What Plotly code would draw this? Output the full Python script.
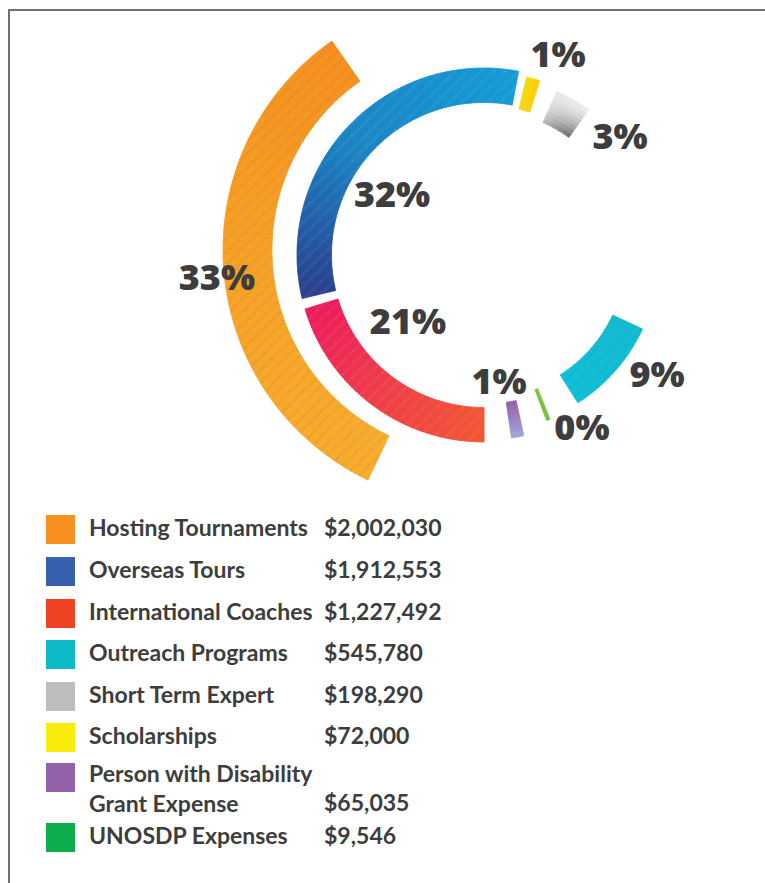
import numpy as np
import plotly.graph_objects as go

# ---------------- data ----------------
categories = ["Hosting Tournaments", "Overseas Tours", "International Coaches",
              "Outreach Programs", "Short Term Expert", "Scholarships",
              "Person with Disability<br>Grant Expense", "UNOSDP Expenses"]
amounts = [2002030, 1912553, 1227492, 545780, 198290, 72000, 65035, 9546]
amount_labels = ["$2,002,030", "$1,912,553", "$1,227,492", "$545,780",
                 "$198,290", "$72,000", "$65,035", "$9,546"]
pct_labels = ["33%", "32%", "21%", "9%", "3%", "1%", "1%", "0%"]
legend_colors = ["#F7901E", "#3761AE", "#EF4123", "#0BBAC6",
                 "#BDBDBD", "#F9EC0A", "#9561A8", "#0BAE4B"]

# ---------------- layout / style config ----------------
W, H = 765, 883
TXT = "#3D3D3D"
PCT_FONT = dict(family="Open Sans", size=36, color=TXT, weight=800)
LEG_FONT = dict(family="Lato", size=23, color=TXT, weight="bold")


def fx(x):
    return x / W


def fy(y):
    return 1 - y / H


# polar subplots: centre (px), radial range (px), sector (screen degrees)
POLARS = {
    "polar": dict(center=(478, 250), R=268, sector=(118, 252)),
    "polar2": dict(center=(484, 255), R=240, sector=(0, 360)),
}
subplot_of = ["polar", "polar2", "polar2", "polar2", "polar2", "polar2", "polar2", "polar2"]
arc_mid = [265.3, 313.6, 216.6, 131.3, 29.9, 15.6, 169.5, 158.7]
ring = [(206, 255), (152.5, 187), (152.5, 187), (142, 175),
        (145, 179), (150, 183), (149, 185), (144, 177)]
MIN_SWEEP = 1.2
label_pos = [(263.0, 263.2), (108.2, 301.8), (103.3, 227.4), (212.3, 125.4),
             (178.1, 49.8), (210.4, 20.6), (130.9, 173.4), (201.4, 150.9)]
textured = [True, True, True, True, False, False, False, False]


def hex2rgb(h):
    h = h.lstrip("#")
    return np.array([int(h[i:i + 2], 16) for i in (0, 2, 4)], float)


def interp(stops, t):
    t = min(max(t, 0.0), 1.0)
    for (t0, c0), (t1, c1) in zip(stops[:-1], stops[1:]):
        if t <= t1:
            f = 0 if t1 == t0 else (t - t0) / (t1 - t0)
            return hex2rgb(c0) * (1 - f) + hex2rgb(c1) * f
    return hex2rgb(stops[-1][1])


def rgb(c):
    return "rgb(%d,%d,%d)" % tuple(np.clip(np.round(c), 0, 255))


u_stops = [
    [(0, "#F9AD2D"), (0.55, "#F8A126"), (1, "#F78F1E")],
    [(0, "#283E8B"), (0.2, "#215BA5"), (0.45, "#1882C2"), (1, "#139BD5")],
    [(0, "#F15633"), (0.5, "#EF3C46"), (1, "#EC1A5C")],
    [(0, "#12BBD2"), (1, "#0DBFD7")],
    None,
    [(0, "#F3DC14"), (1, "#FFCC0A")],
    None,
    [(0, "#7CC142"), (1, "#7CC142")],
]


def color_at(i, u, v):
    if i == 4:  # grey, diagonal gradient
        t = ((1 - v) ** 1.6) * (0.35 + 0.65 * u)
        return interp([(0, "#E9EAEB"), (1, "#626366")], t)
    if i == 6:  # purple, radial gradient
        return interp([(0, "#955FA9"), (1, "#A0A6D8")], v)
    return interp(u_stops[i], u)


total = float(sum(amounts))
fig = go.Figure()

for i, amt in enumerate(amounts):
    sweep = max(amt / total * 360.0, MIN_SWEEP)
    start = arc_mid[i] - sweep / 2
    r0, r1 = ring[i]
    nu = 1 if i == 6 else max(1, int(round(sweep / 1.0)))
    nv = 8 if i in (4, 6) else 1
    if i == 4:
        nu = 14
    th, wd, bs, rr, cols = [], [], [], [], []
    du = sweep / nu
    dv = (r1 - r0) / nv
    for a in range(nu):
        for b in range(nv):
            th.append((start + (a + 0.5) * du) % 360)
            wd.append(du)
            bs.append(r0 + b * dv)
            rr.append(dv)
            cols.append(rgb(color_at(i, (a + 0.5) / nu, (b + 0.5) / nv)))
    marker = dict(color=cols, line=dict(color=cols, width=0.8))
    if textured[i]:
        marker["pattern"] = dict(shape="/", fgcolor="white", fgopacity=0.07,
                                 size=9, solidity=0.35)
    fig.add_trace(go.Barpolar(
        theta=th, r=rr, base=bs, width=wd, marker=marker,
        subplot=subplot_of[i], name=categories[i].replace("<br>", " "),
        showlegend=False, hoverinfo="skip",
    ))

# percentage labels (cliponaxis=False also keeps the rings unclipped)
for sp in POLARS:
    idx = [i for i in range(len(pct_labels)) if subplot_of[i] == sp]
    fig.add_trace(go.Scatterpolar(
        r=[label_pos[i][0] for i in idx],
        theta=[label_pos[i][1] for i in idx],
        text=[pct_labels[i] for i in idx],
        mode="text", cliponaxis=False, subplot=sp, showlegend=False,
        textfont=PCT_FONT, hoverinfo="skip",
    ))


def sector_bbox(s0, s1):
    angs = [s0, s1] + [a for a in (0, 90, 180, 270, 360) if s0 < a < s1]
    xs = [0.0] + [np.cos(np.radians(a)) for a in angs]
    ys = [0.0] + [np.sin(np.radians(a)) for a in angs]
    return min(xs), max(xs), min(ys), max(ys)


polars = {}
for sp, cfg in POLARS.items():
    cx, cy = cfg["center"]
    R = cfg["R"]
    x0, x1, y0, y1 = sector_bbox(*cfg["sector"])
    polars[sp] = dict(
        bgcolor="rgba(0,0,0,0)", barmode="overlay", hole=0,
        sector=list(cfg["sector"]),
        domain=dict(x=[fx(cx + R * x0), fx(cx + R * x1)],
                    y=[fy(cy - R * y0), fy(cy - R * y1)]),
        radialaxis=dict(range=[0, R], visible=False),
        angularaxis=dict(direction="clockwise", rotation=90, showline=False,
                         showticklabels=False, ticks="", showgrid=False),
    )

# legend (custom)
leg_top = [515, 557, 599, 640, 682, 723, 763, 823]
SQ, SQ_X, TXT_X, AMT_X = 29, 46, 87, 322
shapes, annos = [], []
for i, c in enumerate(categories):
    y0 = leg_top[i]
    shapes.append(dict(type="rect", xref="paper", yref="paper",
                       x0=fx(SQ_X), x1=fx(SQ_X + SQ), y0=fy(y0 + SQ), y1=fy(y0),
                       fillcolor=legend_colors[i], line=dict(width=0)))
    if "<br>" in c:
        ty, ay = 788, 802
    else:
        ty = ay = y0 + 12
    annos.append(dict(xref="paper", yref="paper", x=fx(TXT_X), y=fy(ty), text=c,
                      xanchor="left", yanchor="middle", showarrow=False, align="left",
                      font=LEG_FONT))
    annos.append(dict(xref="paper", yref="paper", x=fx(AMT_X), y=fy(ay), text=amount_labels[i],
                      xanchor="left", yanchor="middle", showarrow=False, font=LEG_FONT))

# frame lines
shapes.append(dict(type="line", xref="paper", yref="paper", x0=fx(9), x1=fx(9),
                   y0=0, y1=fy(9), line=dict(color="#707070", width=2)))
shapes.append(dict(type="line", xref="paper", yref="paper", x0=fx(8), x1=1,
                   y0=fy(10), y1=fy(10), line=dict(color="#707070", width=2)))

fig.update_layout(
    width=W, height=H, margin=dict(l=0, r=0, t=0, b=0),
    paper_bgcolor="white", plot_bgcolor="white",
    shapes=shapes, annotations=annos, showlegend=False,
    **polars,
)
fig.write_html("out.html", config={"displayModeBar": False},
               post_script="document.body.style.margin='0';"
                           "document.body.style.overflow='hidden';")
